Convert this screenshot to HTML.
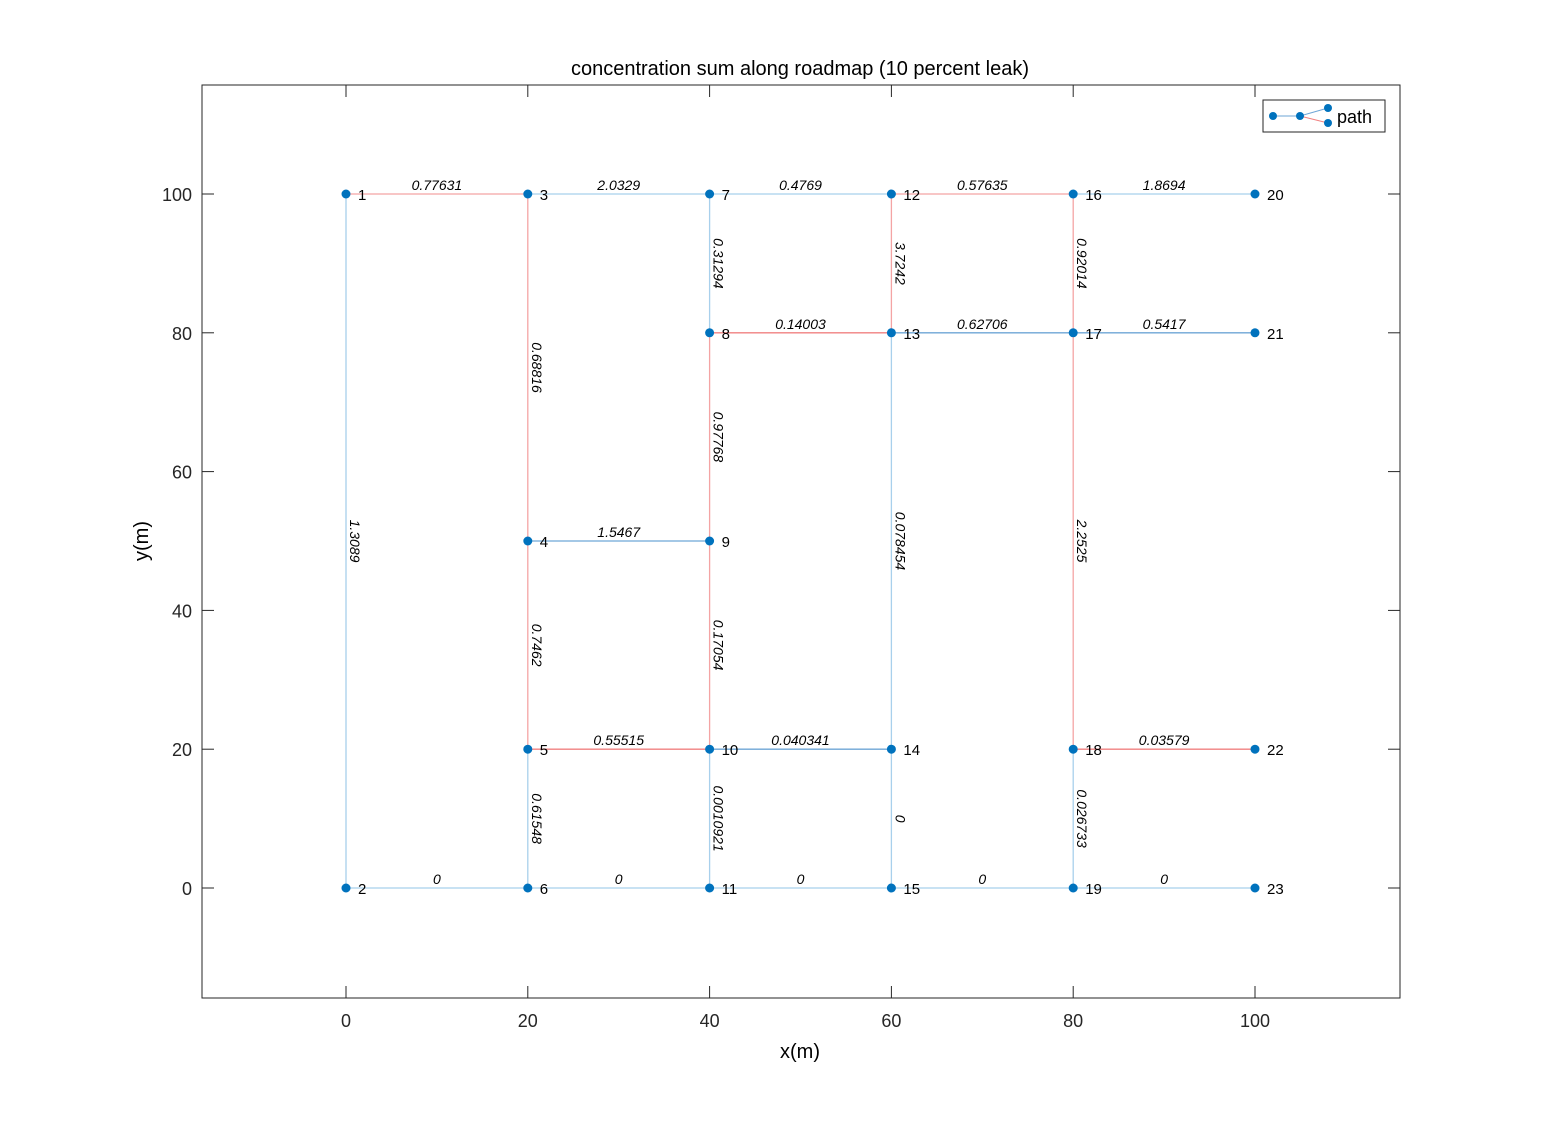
<!DOCTYPE html>
<html><head><meta charset="utf-8"><style>
body{margin:0;background:#fff}
svg text{font-family:"Liberation Sans",sans-serif}
</style></head><body>
<svg id="chart" width="1548" height="1122" xmlns="http://www.w3.org/2000/svg">
<rect width="1548" height="1122" fill="#fff"/>
<text x="800" y="75" font-size="20" text-anchor="middle">concentration sum along roadmap (10 percent leak)</text>
<rect x="202" y="85" width="1198" height="913" fill="none" stroke="#262626" stroke-width="1"/>
<g id="ticks"></g>
<g id="edges"></g>
<g id="nodes"></g>
<text x="800" y="1058" font-size="20" text-anchor="middle">x(m)</text>
<text transform="translate(148,541) rotate(-90)" font-size="20" text-anchor="middle">y(m)</text>
<g>
<rect x="1263" y="100" width="122" height="32" fill="#fff" stroke="#262626"/>
<line x1="1273" y1="116" x2="1300" y2="116" stroke="#6ea6d6"/>
<line x1="1300" y1="116" x2="1328" y2="108" stroke="#6ea6d6"/>
<line x1="1300" y1="116" x2="1328" y2="123" stroke="#f08080"/>
<circle cx="1273" cy="116" r="4" fill="#0072bd"/><circle cx="1300" cy="116" r="4" fill="#0072bd"/>
<circle cx="1328" cy="108" r="4" fill="#0072bd"/><circle cx="1328" cy="123" r="4" fill="#0072bd"/>
<text x="1337" y="123" font-size="18">path</text>
</g>
</svg>
<script>
const nodeX=[0,0,20,20,20,20,40,40,40,40,40,60,60,60,60,80,80,80,80,100,100,100,100];
const nodeY=[100,0,100,50,20,0,100,80,50,20,0,100,80,20,0,100,80,20,0,100,80,20,0];
const edgeFrom=[1,1,2,3,3,4,4,5,5,6,7,7,8,8,9,10,10,11,12,12,13,13,14,15,16,16,17,17,18,18,19];
const edgeTo=[2,3,6,4,7,5,9,6,10,11,8,12,9,13,10,11,14,15,13,16,14,17,15,19,17,20,18,21,19,22,23];
const edgeWeight=["1.3089","0.77631","0","0.68816","2.0329","0.7462","1.5467","0.61548","0.55515","0","0.31294","0.4769","0.97768","0.14003","0.17054","0.0010921","0.040341","0","3.7242","0.57635","0.078454","0.62706","0","0","0.92014","1.8694","2.2525","0.5417","0.026733","0.03579","0"];
const edgeColor=["lb","lr","lb","lr","lb","lr","db","lb","dr","lb","lb","lb","lr","dr","lr","lb","db","lb","lr","lr","lb","db","lb","lb","lr","lb","lr","db","lb","dr","lb"];
const xTicks=[0,20,40,60,80,100];
const yTicks=[0,20,40,60,80,100];
const cols={lb:"#a8d0ec",db:"#6ea6d6",lr:"#f4a4a4",dr:"#f08080"};
const X=v=>346+(v)*9.09, Y=v=>888-(v)*6.94;
const NS="http://www.w3.org/2000/svg";
function mk(t,a,p){const e=document.createElementNS(NS,t);for(const k in a)e.setAttribute(k,a[k]);p.appendChild(e);return e;}
const tg=document.getElementById('ticks');
xTicks.forEach(v=>{
  let l=mk('line',{x1:X(v),x2:X(v),y1:998,y2:986,stroke:'#262626'},tg);
  
  
  mk('line',{x1:X(v),x2:X(v),y1:85,y2:97,stroke:'#262626'},tg);
  let t=mk('text',{x:X(v),y:1027,'font-size':18,'text-anchor':'middle',fill:'#262626'},tg);t.textContent=v;
  
  
});
yTicks.forEach(v=>{
  let l=mk('line',{x1:202,x2:214,y1:Y(v),y2:Y(v),stroke:'#262626'},tg);
  
  
  mk('line',{x1:1388,x2:1400,y1:Y(v),y2:Y(v),stroke:'#262626'},tg);
  let t=mk('text',{x:192,y:Y(v)+7,'font-size':18,'text-anchor':'end',fill:'#262626'},tg);t.textContent=v;
  
  
});
const eg=document.getElementById('edges');
edgeFrom.forEach((f,i)=>{
  const a=f-1,b=edgeTo[i]-1;
  const x1=X(nodeX[a]),y1=Y(nodeY[a]),x2=X(nodeX[b]),y2=Y(nodeY[b]);
  let l=mk('line',{x1,y1,x2,y2,stroke:cols[edgeColor[i]],'stroke-width':1.3},eg);
  
  
  const mx=(x1+x2)/2,my=(y1+y2)/2;let t;
  if(y1===y2){t=mk('text',{x:mx,y:my-4,'font-size':14,'font-style':'italic','text-anchor':'middle'},eg);}
  else{t=mk('text',{x:0,y:0,'font-size':14,'font-style':'italic','text-anchor':'middle',transform:`translate(${mx+4},${my}) rotate(90)`},eg);}
  t.textContent=edgeWeight[i];
  
  
});
const ng=document.getElementById('nodes');
nodeX.forEach((x,i)=>{
  let c=mk('circle',{cx:X(x),cy:Y(nodeY[i]),r:4.5,fill:'#0072bd'},ng);
  
  
  let t=mk('text',{x:X(x)+12,y:Y(nodeY[i])+6,'font-size':15},ng);t.textContent=i+1;
  
  
});
</script>
</body></html>
